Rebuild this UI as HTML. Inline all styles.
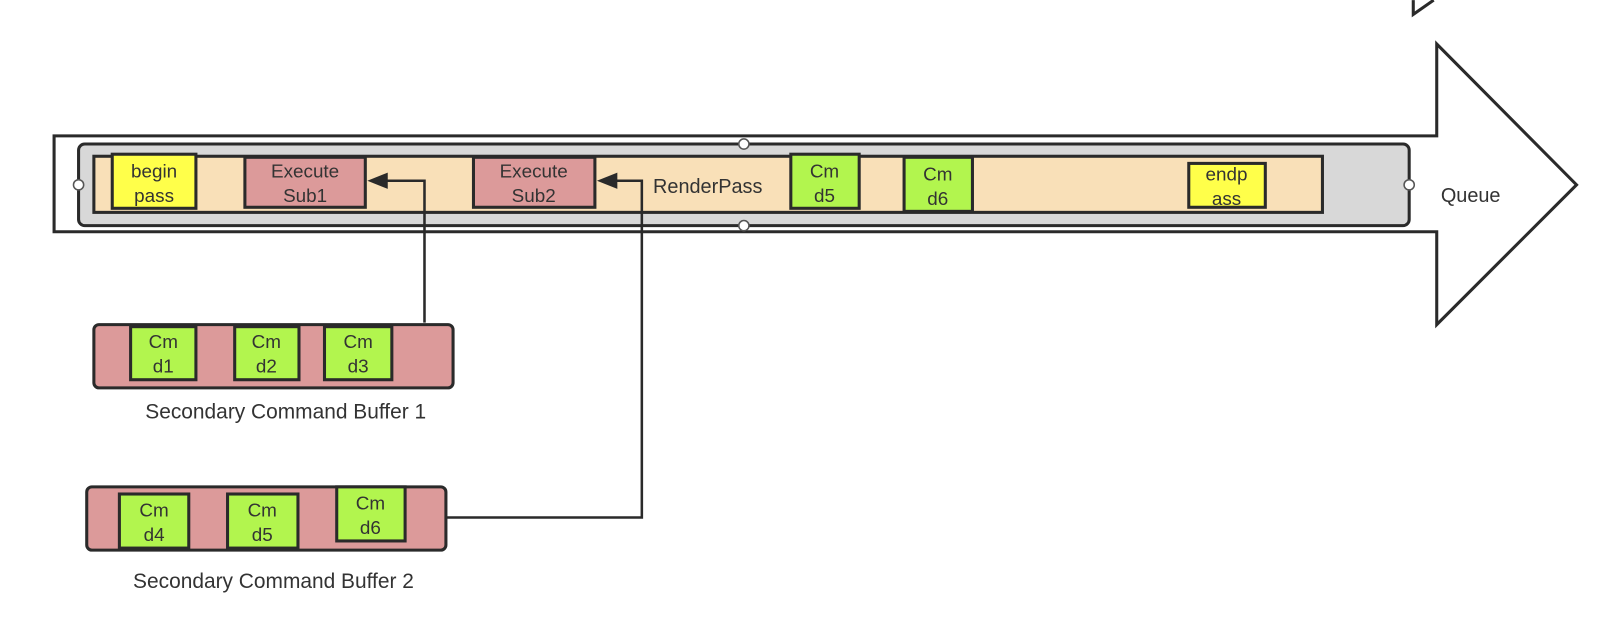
<!DOCTYPE html>
<html><head><meta charset="utf-8"><style>html,body{margin:0;padding:0;background:#fff;}svg{display:block}</style></head>
<body>
<svg width="1600" height="637" viewBox="0 0 1568 624" xmlns="http://www.w3.org/2000/svg" font-family="Liberation Sans, sans-serif" font-size="18.5" fill="#333">
<polyline points="1385,0 1385,14 1405,0" fill="none" stroke="#2a2a2a" stroke-width="3"/>
<polygon points="53,133 1408,133 1408,43 1545,181 1408,318 1408,227 53,227" fill="#fff" stroke="#2a2a2a" stroke-width="3"/>
<rect x="77" y="141" width="1304" height="80" rx="6" fill="#d8d8d8" stroke="#2a2a2a" stroke-width="3"/>
<rect x="92" y="153" width="1204" height="55" fill="#f9e0b8" stroke="#2a2a2a" stroke-width="3"/>
<g stroke="#2a2a2a" stroke-width="3">
<rect x="110" y="151" width="82" height="53" fill="#ffff4a"/>
<rect x="240" y="154" width="118" height="49" fill="#dc9a9a"/>
<rect x="464" y="154" width="119" height="49" fill="#dc9a9a"/>
<rect x="775" y="151" width="67" height="53" fill="#b2f54e"/>
<rect x="886" y="154" width="67" height="53" fill="#b2f54e"/>
<rect x="1165" y="160" width="75" height="43" fill="#ffff4a"/>
</g>
<g fill="#fff" stroke="#555" stroke-width="1.5">
<circle cx="729" cy="141" r="5"/><circle cx="729" cy="221" r="5"/><circle cx="77" cy="181" r="5"/><circle cx="1381" cy="181" r="5"/>
</g>
<g text-anchor="middle">
<text x="151" y="174">begin</text><text x="151" y="198">pass</text>
<text x="299" y="174">Execute</text><text x="299" y="198">Sub1</text>
<text x="523" y="174">Execute</text><text x="523" y="198">Sub2</text>
<text x="808" y="174">Cm</text><text x="808" y="198">d5</text>
<text x="919" y="177">Cm</text><text x="919" y="201">d6</text>
<text x="1202" y="177">endp</text><text x="1202" y="201">ass</text>
</g>
<text x="640" y="189" font-size="19.5">RenderPass</text>
<text x="1412" y="198" font-size="19.5">Queue</text>
<g fill="none" stroke="#2a2a2a" stroke-width="2.5">
<polyline points="416,316 416,177 376,177"/>
<polyline points="438,507 629,507 629,177 601,177"/>
</g>
<polygon points="360,177 380,169 380,185" fill="#2a2a2a"/>
<polygon points="585,177 605,169 605,185" fill="#2a2a2a"/>
<rect x="92" y="318" width="352" height="62" rx="5" fill="#dc9a9a" stroke="#2a2a2a" stroke-width="3"/>
<rect x="85" y="477" width="352" height="62" rx="5" fill="#dc9a9a" stroke="#2a2a2a" stroke-width="3"/>
<g stroke="#2a2a2a" stroke-width="3" fill="#b2f54e">
<rect x="128" y="320" width="64" height="52"/>
<rect x="230" y="320" width="63" height="52"/>
<rect x="318" y="320" width="66" height="52"/>
<rect x="117" y="484" width="68" height="53"/>
<rect x="223" y="484" width="69" height="53"/>
<rect x="330" y="477" width="67" height="53"/>
</g>
<g text-anchor="middle">
<text x="160" y="341">Cm</text><text x="160" y="365">d1</text>
<text x="261" y="341">Cm</text><text x="261" y="365">d2</text>
<text x="351" y="341">Cm</text><text x="351" y="365">d3</text>
<text x="151" y="506">Cm</text><text x="151" y="530">d4</text>
<text x="257" y="506">Cm</text><text x="257" y="530">d5</text>
<text x="363" y="499">Cm</text><text x="363" y="523">d6</text>
<text x="280" y="410" font-size="20.5">Secondary Command Buffer 1</text>
<text x="268" y="576" font-size="20.5">Secondary Command Buffer 2</text>
</g>
</svg>
</body></html>
